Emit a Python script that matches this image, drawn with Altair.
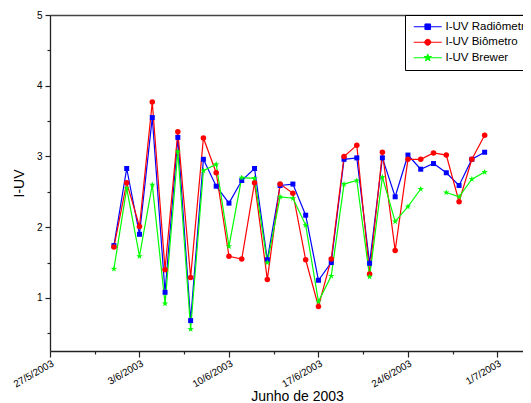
import altair as alt
import pandas as pd

dates = ["2003-06-01", "2003-06-02", "2003-06-03", "2003-06-04", "2003-06-05",
         "2003-06-06", "2003-06-07", "2003-06-08", "2003-06-09", "2003-06-10",
         "2003-06-11", "2003-06-12", "2003-06-13", "2003-06-14", "2003-06-15",
         "2003-06-16", "2003-06-17", "2003-06-18", "2003-06-19", "2003-06-20",
         "2003-06-21", "2003-06-22", "2003-06-23", "2003-06-24", "2003-06-25",
         "2003-06-26", "2003-06-27", "2003-06-28", "2003-06-29", "2003-06-30"]
radiometro = [1.74, 2.83, 1.90, 3.55, 1.08, 3.27, 0.68, 2.96, 2.58, 2.34,
              2.66, 2.83, 1.54, 2.59, 2.61, 2.17, 1.25, 1.50, 2.96, 2.98,
              1.49, 2.98, 2.43, 3.02, 2.82, 2.90, 2.77, 2.59, 2.96, 3.06]
biometro = [1.72, 2.63, 2.01, 3.77, 1.40, 3.35, 1.29, 3.26, 2.77, 1.59,
            1.55, 2.63, 1.26, 2.61, 2.48, 1.54, 0.88, 1.55, 3.00, 3.16,
            1.34, 3.06, 1.67, 2.96, 2.96, 3.05, 3.02, 2.36, 2.96, 3.30]
brewer = [1.41, 2.55, 1.59, 2.60, 0.92, 3.07, 0.56, 2.80, 2.89, 1.73,
          2.70, 2.69, 1.50, 2.43, 2.41, 2.03, 0.95, 1.31, 2.61, 2.66,
          1.30, 2.71, 2.08, 2.29, 2.54, None, 2.49, 2.43, 2.68, 2.78]
series_names = ["I-UV Radiômetro", "I-UV Biômetro", "I-UV Brewer"]
series_colors = ["#0000ff", "#ff0000", "#00ff00"]
y_ticks = [1, 2, 3, 4, 5]
y_minor = [0.5, 1.5, 2.5, 3.5, 4.5]

rows = []
for name, vals in zip(series_names, [radiometro, biometro, brewer]):
    for d, v in zip(dates, vals):
        rows.append({"date": d, "series": name, "value": v})
df = pd.DataFrame(rows)

FONT = "Liberation Sans"
AXC = "#222222"
STAR = ("M0,-1.1L0.26,-0.36L1.05,-0.34L0.42,0.14L0.65,0.89L0,0.44"
        "L-0.65,0.89L-0.42,0.14L-1.05,-0.34L-0.26,-0.36Z")
LEG_SQ = "M-4,0H4M-0.8,-0.8H0.8V0.8H-0.8Z"
LEG_CI = "M-4,0H4M-0.85,0A0.85,0.85,0,1,1,0.85,0A0.85,0.85,0,1,1,-0.85,0Z"
LEG_ST = "M-4,0H4" + STAR


def dt(y, m, d, h=0):
    return alt.DateTime(year=y, month=m, date=d, hours=h, utc=True)


x_domain = [dt(2003, 5, 27), dt(2003, 7, 3)]
x_major = [dt(2003, 5, 27), dt(2003, 6, 3), dt(2003, 6, 10), dt(2003, 6, 17),
           dt(2003, 6, 24), dt(2003, 7, 1)]
x_minor = [dt(2003, 5, 30, 12), dt(2003, 6, 6, 12), dt(2003, 6, 13, 12),
           dt(2003, 6, 20, 12), dt(2003, 6, 27, 12)]

xscale = alt.Scale(type="utc", domain=x_domain)
yscale = alt.Scale(domain=[0.25, 5], nice=False, zero=False)
cscale = alt.Scale(domain=series_names, range=series_colors)

x_main = alt.X(
    "date:T", scale=xscale,
    axis=alt.Axis(orient="bottom", values=x_major,
                  labelExpr="utcFormat(datum.value, '%-d/%-m/%Y')",
                  labelAngle=-30, labelAlign="right", labelBaseline="top",
                  labelFont=FONT, labelFontSize=10, labelColor="black",
                  labelPadding=1, tickSize=6, tickColor=AXC, tickWidth=1.2,
                  domain=True, domainColor=AXC, domainWidth=1.3,
                  grid=False, title="Junho de 2003", titleFont=FONT,
                  titleFontSize=14, titleFontWeight="normal", titleColor="black",
                  titleX=247, titleY=49, titleBaseline="alphabetic",
                  titleAnchor="middle", titleAlign="center"))
y_main = alt.Y(
    "value:Q", scale=yscale,
    axis=alt.Axis(orient="left", values=y_ticks, labelFont=FONT,
                  labelFontSize=10, labelColor="black", labelPadding=3,
                  tickSize=5, tickColor=AXC, tickWidth=1.2,
                  domain=True, domainColor=AXC, domainWidth=1.3, grid=False,
                  title="I-UV", titleFont=FONT, titleFontSize=14,
                  titleFontWeight="normal", titleColor="black", titleX=-31,
                  titleY=168, titleAngle=270, titleBaseline="middle",
                  titleAlign="center"))

x_plain = alt.X("date:T", scale=xscale, axis=None)
y_plain = alt.Y("value:Q", scale=yscale, axis=None)

lines = alt.Chart(df).mark_line(strokeWidth=1.2).encode(
    x=x_main, y=y_main,
    color=alt.Color("series:N", scale=cscale, legend=None),
    detail="series:N",
)

points = alt.Chart(df).mark_point(filled=True, opacity=1).encode(
    x=x_plain, y=y_plain,
    color=alt.Color("series:N", scale=cscale, legend=None),
    shape=alt.Shape("series:N", scale=alt.Scale(domain=series_names,
                    range=["square", "circle", STAR]), legend=None),
    size=alt.Size("series:N", scale=alt.Scale(domain=series_names,
                  range=[25, 36, 30]), legend=None),
)

leg = alt.Legend(
    title=None, orient="none", legendX=355, legendY=0,
    direction="vertical", fillColor="white", strokeColor="black",
    padding=6, labelFont=FONT, labelFontSize=11.5, labelColor="black",
    symbolSize=49, symbolOffset=11, labelOffset=12, rowPadding=2.5,
    symbolStrokeWidth=1, symbolOpacity=1)

legend_layer = alt.Chart(df).mark_point(opacity=0).encode(
    x=x_plain, y=y_plain,
    fill=alt.Fill("series:N", scale=cscale, legend=leg),
    stroke=alt.Stroke("series:N", scale=cscale, legend=leg),
    shape=alt.Shape("series:N", scale=alt.Scale(domain=series_names,
                    range=[LEG_SQ, LEG_CI, LEG_ST]), legend=leg),
)

minor = alt.Chart(df).mark_point(opacity=0).encode(
    x=alt.X("date:T", scale=xscale,
            axis=alt.Axis(orient="bottom", values=x_minor, labels=False,
                          tickSize=3, tickColor=AXC, tickWidth=1.2,
                          domain=False, grid=False, title=None)),
    y=alt.Y("value:Q", scale=yscale,
            axis=alt.Axis(orient="left", values=y_minor, labels=False,
                          tickSize=3, tickColor=AXC, tickWidth=1.2,
                          domain=False, grid=False, title=None)),
)

top = alt.Chart(df).mark_point(opacity=0).encode(
    x=alt.X("date:T", scale=xscale,
            axis=alt.Axis(orient="top", values=x_major, labels=False,
                          ticks=False, domain=True, domainColor="#444444",
                          domainWidth=1.3, grid=False, title=None)),
    y=y_plain,
)

chart = alt.layer(minor, top, lines, points, legend_layer).resolve_axis(
    x="independent", y="independent"
).resolve_scale(
    shape="independent", fill="independent", stroke="independent"
).properties(
    width=473, height=336,
    autosize=alt.AutoSizeParams(type="none"),
    padding={"left": 42, "top": 7, "right": 0, "bottom": 53},
).configure_view(stroke=None)

chart.save("out.html", embed_options={"renderer": "svg", "actions": False})
